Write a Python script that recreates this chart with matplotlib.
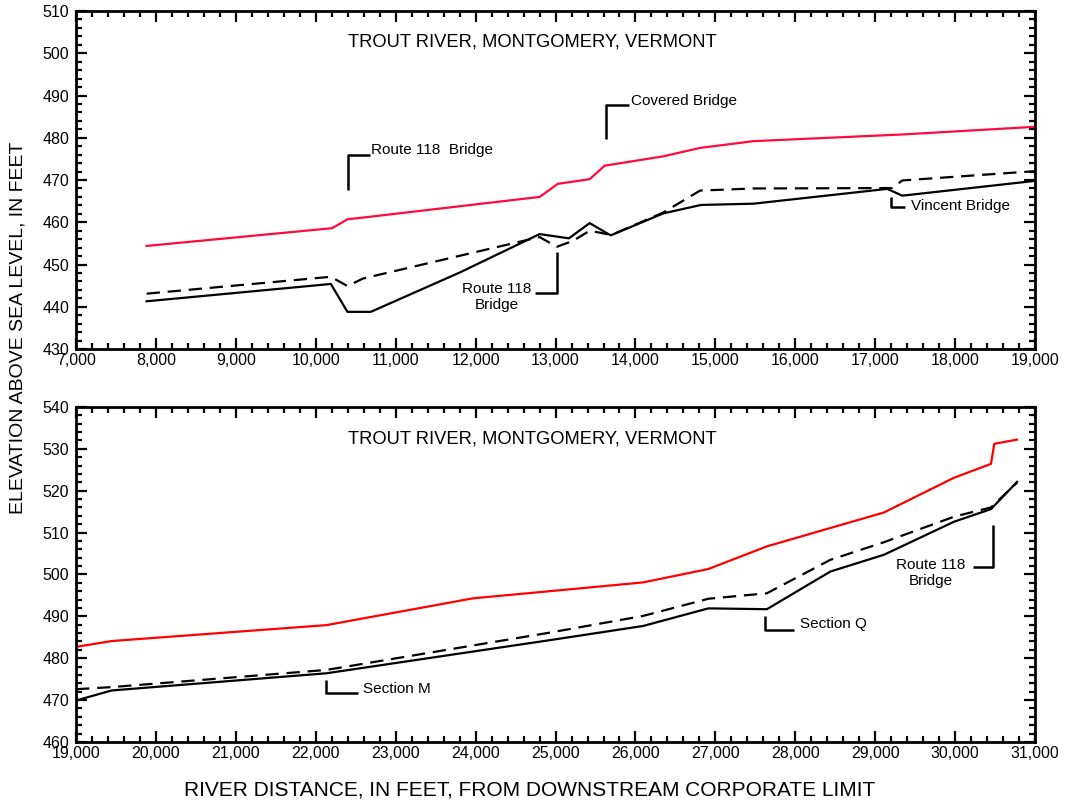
import matplotlib
matplotlib.use("Agg")
import matplotlib.pyplot as plt
from matplotlib.ticker import MultipleLocator, FuncFormatter

plt.rcParams['font.family'] = ['Liberation Sans', 'DejaVu Sans']

# --- upper reach: 7,000 - 19,000 ft ---
up_red_x = [7883, 10204, 10396, 10675, 12800, 13029, 13427, 13615, 14347, 14808, 15477, 17360, 19000]
up_red_y = [454.4, 458.6, 460.7, 461.3, 466.0, 469.1, 470.2, 473.4, 475.6, 477.6, 479.2, 480.8, 482.6]

up_solid_x = [7883, 10188, 10396, 10688, 11800, 12800, 13167, 13427, 13690, 14347, 14820, 15477, 17150, 17339, 19000]
up_solid_y = [441.3, 445.4, 438.8, 438.8, 448.1, 457.2, 456.2, 459.8, 456.9, 462.1, 464.1, 464.4, 467.9, 466.3, 469.8]

up_dash_x = [7883, 10188, 10396, 10592, 12800, 13017, 13218, 13427, 13699, 14347, 14808, 15477, 17213, 17339, 19000]
up_dash_y = [443.1, 447.1, 444.9, 446.7, 456.5, 454.2, 455.6, 458.0, 457.0, 462.3, 467.5, 468.0, 468.1, 469.9, 472.1]

# --- lower reach: 19,000 - 31,000 ft ---
lo_red_x = [19000, 19446, 22133, 23967, 24925, 26096, 26912, 27644, 29109, 29987, 30448, 30490, 30774]
lo_red_y = [482.7, 484.1, 487.9, 494.3, 496.0, 498.1, 501.3, 506.7, 514.8, 523.1, 526.4, 531.2, 532.2]

lo_solid_x = [19000, 19446, 22133, 24925, 26096, 26912, 27644, 28439, 29109, 29987, 30448, 30774]
lo_solid_y = [469.9, 472.3, 476.4, 484.3, 487.7, 491.9, 491.7, 500.7, 504.7, 512.6, 515.6, 522.1]

lo_dash_x = [19000, 19446, 22133, 24925, 26096, 26912, 27644, 28439, 29109, 29987, 30448, 30774]
lo_dash_y = [472.6, 473.1, 477.2, 486.1, 490.1, 494.2, 495.5, 503.5, 507.7, 513.8, 516.0, 521.9]

title = "TROUT RIVER, MONTGOMERY, VERMONT"

# bracket callouts: (line x, line y, text, text x, text y, alignment)
up_notes = [
    ([10408, 10408, 10675], [467.7, 475.9, 475.9], "Route 118  Bridge", 10690, 477.0, 'left'),
    ([13634, 13634, 13925], [479.6, 487.7, 487.7], "Covered Bridge", 13940, 488.8, 'left'),
    ([13017, 13017, 12738], [453.0, 443.3, 443.3], "Route 118\nBridge", 12260, 442.4, 'center'),
    ([17201, 17201, 17372], [466.0, 463.5, 463.5], "Vincent Bridge", 17450, 463.9, 'left'),
]
lo_notes = [
    ([22133, 22133, 22529], [474.8, 471.6, 471.6], "Section M", 22592, 472.6, 'left'),
    ([27623, 27623, 27987], [490.1, 486.7, 486.7], "Section Q", 28054, 488.1, 'left'),
    ([30473, 30473, 30218], [511.8, 501.8, 501.8], "Route 118\nBridge", 29695, 500.4, 'center'),
]

fig = plt.figure(figsize=(10.65, 8.10), dpi=100)
ax1 = fig.add_axes([0.0714, 0.5691, 0.9005, 0.4173])
ax2 = fig.add_axes([0.0714, 0.0840, 0.9005, 0.4136])

comma = FuncFormatter(lambda v, p: "{:,.0f}".format(v))


def style_axis(ax, xlim, ylim):
    ax.set_xlim(*xlim)
    ax.set_ylim(*ylim)
    ax.xaxis.set_major_locator(MultipleLocator(1000))
    ax.xaxis.set_minor_locator(MultipleLocator(200))
    ax.yaxis.set_major_locator(MultipleLocator(10))
    ax.yaxis.set_minor_locator(MultipleLocator(2))
    ax.xaxis.set_major_formatter(comma)
    ax.tick_params(which='both', direction='in', top=True, right=True, width=1.6, labelsize=11.5)
    ax.tick_params(which='major', length=8)
    ax.tick_params(axis='x', which='major', pad=3)
    ax.tick_params(axis='y', which='major', pad=5)
    ax.tick_params(which='minor', length=4)
    for s in ax.spines.values():
        s.set_linewidth(2)


def draw_notes(ax, notes):
    for lx, ly, txt, tx, ty, ha in notes:
        ax.plot(lx, ly, color='black', lw=1.8, solid_capstyle='butt')
        ax.text(tx, ty, txt, ha=ha, va='center', multialignment='center', fontsize=11)


ax1.plot(up_red_x, up_red_y, color='#ff0a3c', lw=1.6)
ax1.plot(up_solid_x, up_solid_y, color='black', lw=1.6)
ax1.plot(up_dash_x, up_dash_y, color='black', lw=1.6, dashes=(6, 3.5))
style_axis(ax1, (7000, 19000), (430, 510))
draw_notes(ax1, up_notes)
ax1.text(12712, 502.6, title, ha='center', va='center', fontsize=13.2)

ax2.plot(lo_red_x, lo_red_y, color='#ff0000', lw=1.6)
ax2.plot(lo_solid_x, lo_solid_y, color='black', lw=1.6)
ax2.plot(lo_dash_x, lo_dash_y, color='black', lw=1.6, dashes=(6, 3.5))
style_axis(ax2, (19000, 31000), (460, 540))
draw_notes(ax2, lo_notes)
ax2.text(24712, 532.4, title, ha='center', va='center', fontsize=13.2)

fig.text(0.0165, 0.595, "ELEVATION ABOVE SEA LEVEL, IN FEET", rotation=90,
         ha='center', va='center', fontsize=14)
fig.text(0.497, 0.025, "RIVER DISTANCE, IN FEET, FROM DOWNSTREAM CORPORATE LIMIT",
         ha='center', va='center', fontsize=15)

fig.savefig("out.png", dpi=100)
